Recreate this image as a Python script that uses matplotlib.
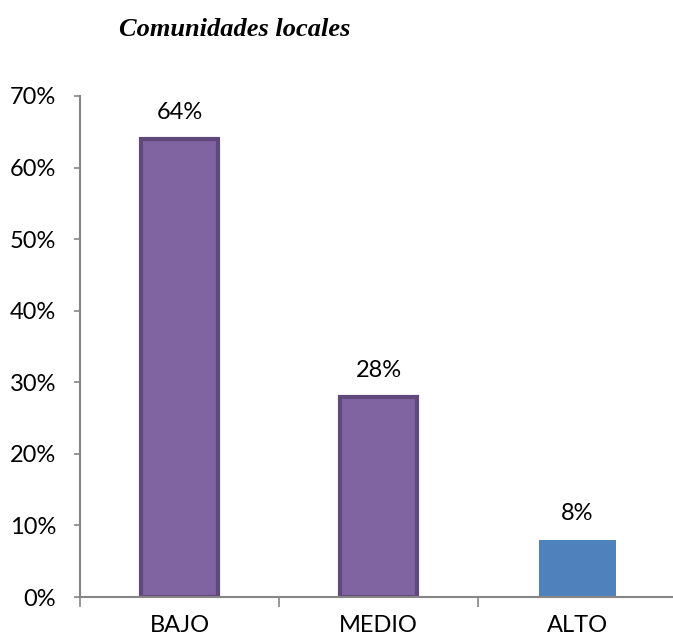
import matplotlib.pyplot as plt
from matplotlib.ticker import FixedLocator, PercentFormatter

categories = ["BAJO", "MEDIO", "ALTO"]
values = [64, 28, 8]
labels = ["64%", "28%", "8%"]
fills = ["#8064A2", "#8064A2", "#4F81BD"]
edges = ["#5F497A", "#5F497A", "none"]

plt.rcParams["font.family"] = ["Lato", "DejaVu Sans"]

fig = plt.figure(figsize=(6.73, 6.39), dpi=100)
ax = fig.add_axes([80 / 673, 1 - 597 / 639, 597 / 673, 501 / 639])

x = range(len(categories))
for i, v in enumerate(values):
    ax.bar(i, v, width=0.39, color=fills[i], edgecolor=edges[i],
           linewidth=3 if edges[i] != "none" else 0, zorder=2)
    ax.text(i, v + 2.2, labels[i], ha="center", va="bottom", fontsize=17)

ax.set_xlim(-0.5, 2.5)
ax.set_ylim(0, 70)
ax.set_yticks(range(0, 71, 10))
ax.yaxis.set_major_formatter(PercentFormatter(decimals=0))
ax.set_xticks(list(x))
ax.set_xticklabels(categories)
ax.xaxis.set_minor_locator(FixedLocator([-0.5, 0.5, 1.5, 2.5]))

for s in ["top", "right"]:
    ax.spines[s].set_visible(False)
for s in ["left", "bottom"]:
    ax.spines[s].set_color("#868686")
    ax.spines[s].set_linewidth(1.5)

ax.tick_params(axis="y", length=4.3, width=1.2, color="#868686", labelsize=17, pad=13)
ax.tick_params(axis="x", which="major", length=0, labelsize=17, pad=13)
ax.tick_params(axis="x", which="minor", length=7, width=1.2, color="#868686")

fig.text(235 / 673, 1 - 30 / 639, "Comunidades locales", ha="center", va="center",
         fontsize=19, fontweight="bold", fontstyle="italic",
         family=["Liberation Serif", "DejaVu Serif"])

fig.savefig("out.png", dpi=100)
plt.close(fig)
